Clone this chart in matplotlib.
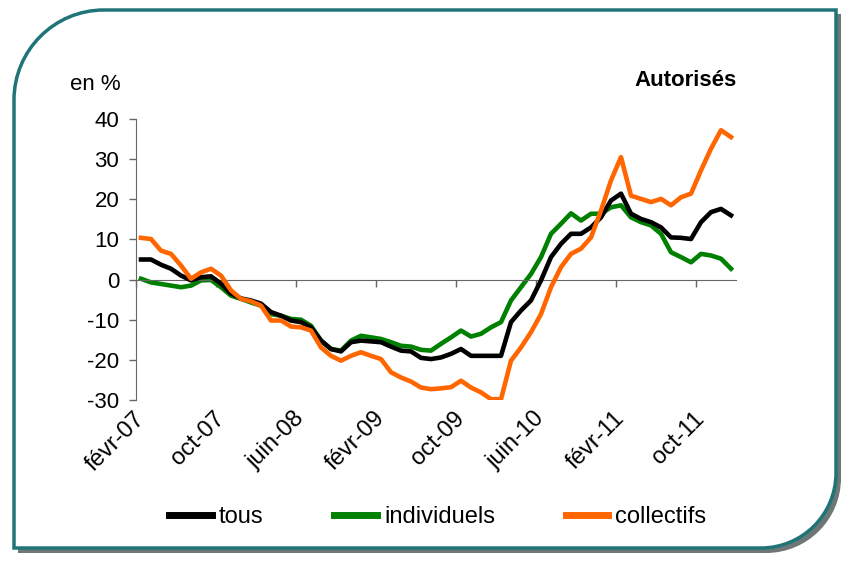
import matplotlib
matplotlib.use("Agg")
import matplotlib.pyplot as plt
from matplotlib.path import Path
from matplotlib.patches import PathPatch
from matplotlib.lines import Line2D
import numpy as np

plt.rcParams['font.family'] = ['Liberation Sans', 'DejaVu Sans']
plt.rcParams['axes.unicode_minus'] = False

# monthly series, fevr-07 .. janv-12 (60 months), en %
tous = [5.0, 5.0, 3.7, 2.7, 1.0, -0.2, 0.6, 0.8, -1.0, -3.5,
        -4.7, -5.2, -6.0, -8.1, -9.0, -10.2, -10.6, -11.9, -15.2, -17.3,
        -17.9, -15.6, -15.2, -15.4, -15.6, -16.7, -17.7, -17.9, -19.5, -19.8,
        -19.4, -18.5, -17.3, -19.0, -19.0, -19.0, -19.0, -10.6, -7.7, -5.2,
        -0.2, 5.6, 8.9, 11.4, 11.4, 13.0, 15.5, 19.7, 21.4, 16.4,
        15.1, 14.3, 13.0, 10.5, 10.4, 10.1, 14.3, 16.8, 17.6, 16.0]
individuels = [0.2, -0.7, -1.1, -1.5, -1.9, -1.5, -0.2, -0.1, -1.9, -4.0,
               -4.8, -5.7, -6.5, -8.6, -9.0, -9.8, -10.0, -11.5, -15.2, -17.3,
               -17.7, -15.2, -14.0, -14.4, -14.8, -15.6, -16.5, -16.7, -17.5, -17.7,
               -16.0, -14.4, -12.7, -14.2, -13.5, -11.9, -10.6, -5.2, -1.9, 1.4,
               5.6, 11.4, 13.9, 16.5, 14.7, 16.4, 16.4, 18.0, 18.5, 15.5,
               14.3, 13.5, 11.4, 6.8, 5.6, 4.3, 6.4, 6.0, 5.2, 2.7]
collectifs = [10.4, 10.1, 7.2, 6.4, 3.5, 0.2, 1.8, 2.7, 1.0, -2.7,
              -4.8, -5.4, -6.5, -10.2, -10.2, -11.7, -11.9, -12.7, -16.9, -19.0,
              -20.2, -19.0, -18.1, -19.0, -19.8, -23.1, -24.4, -25.4, -26.9, -27.3,
              -27.1, -26.8, -25.2, -26.9, -28.1, -29.8, -29.8, -20.2, -16.9, -13.1,
              -8.6, -1.9, 3.1, 6.4, 7.7, 10.5, 17.2, 24.7, 30.5, 20.9,
              20.1, 19.3, 20.1, 18.5, 20.5, 21.4, 27.2, 32.6, 37.2, 35.5]
month_labels = ["févr-07", "oct-07", "juin-08", "févr-09",
                "oct-09", "juin-10", "févr-11", "oct-11"]
label_step = 8

W, H = 845, 563
fig = plt.figure(figsize=(W / 100, H / 100), dpi=100)

# background frame (rounded top-left and bottom-right corners)
bg = fig.add_axes([0, 0, 1, 1])
bg.set_xlim(0, W)
bg.set_ylim(H, 0)
bg.axis('off')


def frame_path(L, T, R, B, r1, r2):
    k = 0.5523
    verts = [(L + r1, T), (R, T), (R, B - r2),
             (R, B - r2 + k * r2), (R - r2 + k * r2, B), (R - r2, B),
             (L, B), (L, T + r1),
             (L, T + r1 - k * r1), (L + r1 - k * r1, T), (L + r1, T),
             (L + r1, T)]
    codes = [Path.MOVETO, Path.LINETO, Path.LINETO,
             Path.CURVE4, Path.CURVE4, Path.CURVE4,
             Path.LINETO, Path.LINETO,
             Path.CURVE4, Path.CURVE4, Path.CURVE4,
             Path.CLOSEPOLY]
    return Path(verts, codes)


bg.add_patch(PathPatch(frame_path(18, 14, 841, 553, 90, 75),
                       facecolor='#3c4a48', edgecolor='none', alpha=0.75))
bg.add_patch(PathPatch(frame_path(14, 10, 836, 548, 90, 75),
                       facecolor='white', edgecolor='#1f7478', lw=2.5))

# chart
ax = fig.add_axes([136 / W, 1 - 400 / H, 600 / W, 281 / H])
ax.patch.set_alpha(0)
x = np.arange(len(tous))
ax.plot(x, individuels, color='#008000', lw=3.3, zorder=2)
ax.plot(x, tous, color='black', lw=3.3, zorder=3)
ax.plot(x, collectifs, color='#ff6600', lw=3.3, zorder=4)

ax.set_xlim(-0.5, len(tous) - 0.5)
ax.set_ylim(-30, 40)
ax.set_yticks(range(-30, 41, 10))
ax.tick_params(axis='y', direction='out', length=5, width=1, color='#666666',
               labelsize=16, pad=7)

for s in ['top', 'right']:
    ax.spines[s].set_visible(False)
ax.spines['left'].set_color('#666666')
ax.spines['bottom'].set_color('#666666')
ax.spines['bottom'].set_position(('data', 0))

ax.set_xticks(np.arange(-0.5, len(tous) - 1, label_step))
ax.tick_params(axis='x', direction='out', length=5, width=1, color='#666666',
               labelbottom=False)

sec = ax.secondary_xaxis(0)
sec.spines['bottom'].set_visible(False)
sec.set_xticks(np.arange(0, len(tous), label_step), month_labels)
sec.tick_params(length=0, pad=11)
for lab in sec.get_xticklabels():
    lab.set_rotation(45)
    lab.set_ha('right')
    lab.set_va('center')
    lab.set_rotation_mode('anchor')
    lab.set_fontsize(17)

fig.text(70 / W, 1 - 85 / H, "en %", fontsize=16, ha='left', va='center')
fig.text(737 / W, 1 - 80 / H, "Autorisés", fontsize=16, fontweight='bold',
         ha='right', va='center')

handles = [Line2D([], [], color='black', lw=5),
           Line2D([], [], color='#008000', lw=5),
           Line2D([], [], color='#ff6600', lw=5)]
fig.legend(handles, ["tous", "individuels", "collectifs"], loc='center',
           bbox_to_anchor=(438 / W, 1 - 517 / H), ncol=3, frameon=False,
           fontsize=17, handlelength=1.8, handletextpad=0.3, columnspacing=3.0)

fig.savefig("out.png", dpi=100)
